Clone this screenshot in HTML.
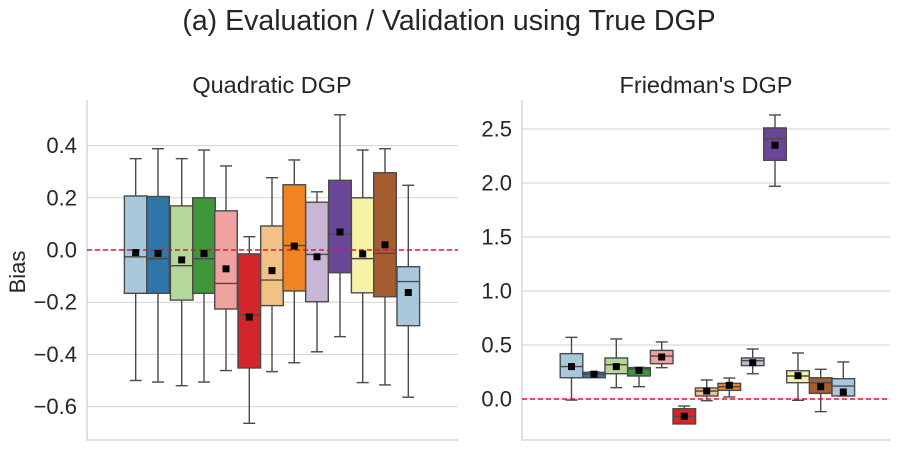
<!DOCTYPE html>
<html><head><meta charset="utf-8"><style>
body{margin:0;background:#fff;}
svg text{font-family:"Liberation Sans",Arial,sans-serif;fill:#262626;}
</style></head><body>
<svg id="c" width="898" height="447" xmlns="http://www.w3.org/2000/svg">
<text x="449" y="30" font-size="28.5" text-anchor="middle">(a) Evaluation / Validation using True DGP</text>
<text x="272" y="93" font-size="23.5" text-anchor="middle">Quadratic DGP</text>
<text x="706" y="93" font-size="23.5" text-anchor="middle">Friedman's DGP</text>
<text x="25" y="272" font-size="22" text-anchor="middle" transform="rotate(-90 25 272)">Bias</text>
<g id="L"></g>
<g id="R"></g>
</svg>
<script>
const colors=["#a9c8dc","#2f75a8","#b6d79a","#3e9638","#f0a2a1","#d3262a","#f2c185","#ef8420","#c9b6d6","#6a4696","#f6f3a6","#a65e31","#a9c8dc"];
const leftCenters=[135.7,158,181.7,204,226,249.3,272,294.3,317,340,362.7,385,408.3];
const leftTicks=[0.4,0.2,0.0,-0.2,-0.4,-0.6];
const leftTickLabels=["0.4","0.2","0.0","\u22120.2","\u22120.4","\u22120.6"];
const qWhiskerLow=[-0.5,-0.506,-0.52,-0.506,-0.462,-0.664,-0.466,-0.432,-0.39,-0.332,-0.508,-0.517,-0.564];
const qQ1=[-0.166,-0.166,-0.192,-0.166,-0.226,-0.452,-0.213,-0.157,-0.198,-0.087,-0.164,-0.179,-0.29];
const qMedian=[-0.026,-0.033,-0.06,-0.033,-0.128,-0.249,-0.115,0.017,-0.017,0.06,-0.033,-0.013,-0.121];
const qQ3=[0.207,0.205,0.169,0.2,0.15,-0.015,0.092,0.25,0.183,0.267,0.2,0.296,-0.064];
const qWhiskerHigh=[0.35,0.388,0.35,0.383,0.322,0.051,0.277,0.345,0.223,0.518,0.383,0.388,0.248];
const qMean=[-0.01,-0.013,-0.038,-0.013,-0.072,-0.257,-0.079,0.015,-0.026,0.069,-0.015,0.02,-0.163];
const rightCenters=[571.5,594,616.3,639,661.7,684.3,706.7,729.3,752.7,775,798,820.7,843.3];
const rightTicks=[2.5,2.0,1.5,1.0,0.5,0.0];
const rightTickLabels=["2.5","2.0","1.5","1.0","0.5","0.0"];
const fWhiskerLow=[-0.01,0.2,0.105,0.114,0.29,-0.23,-0.016,0.019,0.234,1.97,-0.012,-0.117,0.028];
const fQ1=[0.197,0.197,0.234,0.213,0.327,-0.231,0.028,0.08,0.309,2.21,0.151,0.052,0.028];
const fMedian=[0.3,0.23,0.318,0.278,0.398,-0.16,0.074,0.114,0.355,2.41,0.213,0.15,0.12];
const fQ3=[0.42,0.247,0.38,0.29,0.45,-0.09,0.102,0.145,0.38,2.51,0.262,0.197,0.188];
const fWhiskerHigh=[0.571,0.25,0.556,0.293,0.528,-0.065,0.176,0.194,0.463,2.63,0.426,0.275,0.343];
const fMean=[0.3,0.23,0.3,0.265,0.389,-0.16,0.074,0.127,0.336,2.35,0.216,0.114,0.065];

const NS="http://www.w3.org/2000/svg";
function mk(p,t,a){const e=document.createElementNS(NS,t);for(const k in a)e.setAttribute(k,a[k]);p.appendChild(e);return e;}
function panel(g,x0,x1,yScale,ticks,labels,centers,wl,q1,md,q3,wh,mn){
  ticks.forEach((t,i)=>{
    const gl=mk(g,'line',{x1:x0,x2:x1,y1:yScale(t),y2:yScale(t),stroke:'#d2d2d2','stroke-width':1});
    
    
    const tl=mk(g,'text',{x:x0-10,y:yScale(t)+7.5,'font-size':22,'text-anchor':'end'});
    tl.textContent=labels[i];
    
    
  });
  const sp=mk(g,'path',{d:`M${x0},100V440H${x1}`,fill:'none',stroke:'#cfcfcf','stroke-width':1.2});
  
  
  const hw=11.3;
  centers.forEach((c,i)=>{
    const b=mk(g,'g',{});
    
    
    const st={stroke:'#4a4a4a','stroke-width':1.4};
    mk(b,'line',Object.assign({x1:c,x2:c,y1:yScale(wh[i]),y2:yScale(q3[i])},st));
    mk(b,'line',Object.assign({x1:c,x2:c,y1:yScale(q1[i]),y2:yScale(wl[i])},st));
    mk(b,'line',Object.assign({x1:c-6,x2:c+6,y1:yScale(wh[i]),y2:yScale(wh[i])},st));
    mk(b,'line',Object.assign({x1:c-6,x2:c+6,y1:yScale(wl[i]),y2:yScale(wl[i])},st));
    const top=yScale(q3[i]),bot=yScale(q1[i]);
    mk(b,'rect',Object.assign({x:c-hw,y:top,width:2*hw,height:Math.max(bot-top,1),fill:colors[i]},st));
    mk(b,'line',Object.assign({x1:c-hw,x2:c+hw,y1:yScale(md[i]),y2:yScale(md[i])},st));
  });
  const z=mk(g,'line',{x1:x0,x2:x1,y1:yScale(0),y2:yScale(0),stroke:'#e0143c','stroke-width':1.5,'stroke-dasharray':'5,3'});
  
  
  centers.forEach((c,i)=>{
    const m=mk(g,'rect',{x:c-3.5,y:yScale(mn[i])-3.5,width:7,height:7,fill:'#000'});
    
    
  });
}
const yL=v=>250-v*261;
const yR=v=>399-v*108;
panel(document.getElementById('L'),87,458,yL,leftTicks,leftTickLabels,leftCenters,qWhiskerLow,qQ1,qMedian,qQ3,qWhiskerHigh,qMean);
panel(document.getElementById('R'),522,890,yR,rightTicks,rightTickLabels,rightCenters,fWhiskerLow,fQ1,fMedian,fQ3,fWhiskerHigh,fMean);
</script>
</body></html>
